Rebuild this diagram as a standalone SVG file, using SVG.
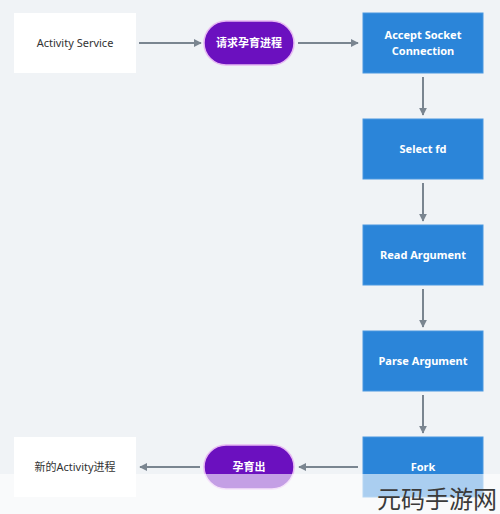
<svg xmlns="http://www.w3.org/2000/svg" width="500" height="514" viewBox="0 0 500 514">
<style>
.wn{fill:#ffffff;}
.bn{fill:#2b85d9;stroke:#4a98e0;stroke-width:1;}
.pill{fill:#6b10bf;stroke:#e6b8f2;stroke-width:1.5;}
.tw{font-family:"Noto Sans","Noto Sans CJK SC",sans-serif;font-size:11px;fill:#333;text-anchor:middle;}
.tb{font-family:"Noto Sans","Noto Sans CJK SC",sans-serif;font-size:11px;font-weight:bold;fill:#ffffff;text-anchor:middle;}
.c{stroke:#7a8590;stroke-width:2;fill:none;marker-end:url(#ah);}
</style>
<defs>
<marker id="ah" viewBox="0 0 10 10" refX="9" refY="5" markerWidth="4" markerHeight="4" orient="auto">
<path d="M0,0 L10,5 L0,10 z" fill="#7a8590"/>
</marker>
</defs>
<rect width="500" height="514" fill="#f0f3f6"/>
<g id="connectors">
<line class="c" x1="139" y1="43" x2="201" y2="43"/>
<line class="c" x1="298" y1="43" x2="358" y2="43"/>
<line class="c" x1="423" y1="77" x2="423" y2="115"/>
<line class="c" x1="423" y1="183" x2="423" y2="221"/>
<line class="c" x1="423" y1="289" x2="423" y2="327"/>
<line class="c" x1="423" y1="395" x2="423" y2="433"/>
<line class="c" x1="358" y1="467" x2="299" y2="467"/>
<line class="c" x1="200" y1="467" x2="140" y2="467"/>
</g>
<g id="activity-service">
<rect class="wn" x="14" y="13" width="122" height="60"/>
<text class="tw" x="75" y="47">Activity Service</text>
</g>
<g id="request">
<rect class="pill" x="204" y="21" width="90" height="44" rx="22"/>
<text class="tb" x="249" y="47">请求孕育进程</text>
</g>
<g id="accept">
<rect class="bn" x="363" y="13" width="120" height="60"/>
<text class="tb" x="423" y="39">Accept Socket</text>
<text class="tb" x="423" y="55">Connection</text>
</g>
<g id="select">
<rect class="bn" x="363" y="119" width="120" height="60"/>
<text class="tb" x="423" y="153">Select fd</text>
</g>
<g id="read">
<rect class="bn" x="363" y="225" width="120" height="60"/>
<text class="tb" x="423" y="259">Read Argument</text>
</g>
<g id="parse">
<rect class="bn" x="363" y="331" width="120" height="60"/>
<text class="tb" x="423" y="365">Parse Argument</text>
</g>
<g id="fork">
<rect class="bn" x="363" y="437" width="120" height="60"/>
<text class="tb" x="423" y="471">Fork</text>
</g>
<g id="spawn">
<rect class="pill" x="204" y="445" width="90" height="44" rx="22"/>
<text class="tb" x="249" y="471">孕育出</text>
</g>
<g id="new-activity">
<rect class="wn" x="14" y="437" width="122" height="60"/>
<text class="tw" x="75" y="471">新的Activity进程</text>
</g>
<rect x="0" y="474" width="500" height="40" fill="#ffffff" opacity="0.6"/>
<text x="377" y="508" font-family="Noto Sans CJK SC,sans-serif" font-size="24" fill="#3a3a3a">元码手游网</text>
</svg>
